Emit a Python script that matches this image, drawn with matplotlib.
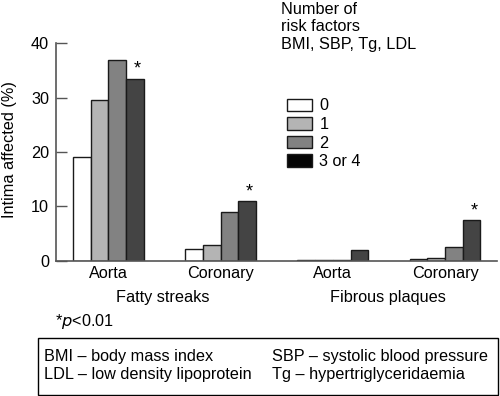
import numpy as np
import matplotlib.pyplot as plt
from matplotlib.patches import Patch, Rectangle

plt.rcParams['font.family'] = ['Liberation Sans', 'DejaVu Sans']
FS = 11.7

sites = ['Aorta', 'Coronary', 'Aorta', 'Coronary']
lesions = ['Fatty streaks', 'Fibrous plaques']
n_factors = ['0', '1', '2', '3 or 4']

# % intima affected, one list per number of risk factors
zero = [19.1, 2.1, 0.2, 0.4]
one = [29.5, 2.9, 0.2, 0.5]
two = [36.9, 9.0, 0.2, 2.6]
three_four = [33.5, 11.0, 2.0, 7.5]
signif = [True, True, False, True]

bar_colors = ['white', '#b4b4b4', '#828282', '#444444']
legend_colors = ['white', '#b4b4b4', '#828282', '#050505']

fig = plt.figure(figsize=(5.0, 3.96), dpi=100)
W, H = 500.0, 396.0
ax = fig.add_axes([56 / W, 1 - 260.7 / H, (497 - 56) / W, (260.7 - 43.3) / H])

x = np.arange(len(sites))
w = 0.1575
series = [zero, one, two, three_four]
for i, vals in enumerate(series):
    ax.bar(x + (i - 1.5) * w, vals, w, color=bar_colors[i],
           edgecolor='#1a1a1a', linewidth=1.0)

for xi, v, s in zip(x, three_four, signif):
    if s:
        ax.text(xi + 1.5 * w + 0.02, v + 1.7, '*', ha='center', va='center',
                fontsize=13)

ax.set_xlim(-0.467, 3.463)
ax.set_ylim(0, 40)
ax.set_yticks([0, 10, 20, 30, 40])
ax.set_xticks(x)
ax.set_xticklabels(sites, fontsize=FS)
ax.tick_params(axis='x', length=0, pad=3.5)
ax.tick_params(axis='y', direction='in', length=8, width=1, color='#555555',
               labelsize=FS, pad=5)
for sp in ['top', 'right']:
    ax.spines[sp].set_visible(False)
for sp in ['left', 'bottom']:
    ax.spines[sp].set_color('#555555')
    ax.spines[sp].set_linewidth(1.2)
ax.set_ylabel('Intima affected (%)', fontsize=FS)
ax.yaxis.set_label_coords((17 - 56) / 441, 0.509)

fig.text(163 / W, 1 - 297.7 / H, lesions[0], ha='center', va='center', fontsize=FS)
fig.text(388 / W, 1 - 297.7 / H, lesions[1], ha='center', va='center', fontsize=FS)

fig.text(281 / W, 1 - 2 / H, 'Number of\nrisk factors\nBMI, SBP, Tg, LDL',
         ha='left', va='top', fontsize=FS, linespacing=1.2)

handles = [Patch(facecolor=c, edgecolor='#1a1a1a', linewidth=1.0) for c in legend_colors]
fig.legend(handles, n_factors, loc='upper left',
           bbox_to_anchor=(283 / W, 1 - 94 / H), frameon=False, fontsize=FS,
           handlelength=1.54, handleheight=0.8, labelspacing=0.22,
           handletextpad=0.43, borderaxespad=0, borderpad=0.27)

fig.text(55 / W, 1 - 321.7 / H, '*$\\it{p}$<0.01', ha='left', va='center', fontsize=FS)

fig.patches.append(Rectangle((37.7 / W, 1 - 395 / H), (498 - 37.7) / W, (395 - 338) / H,
                             transform=fig.transFigure, fill=False,
                             edgecolor='black', linewidth=1.0))
fig.text(44 / W, 1 - 356.7 / H, 'BMI – body mass index', ha='left', va='center', fontsize=FS)
fig.text(44 / W, 1 - 375 / H, 'LDL – low density lipoprotein', ha='left', va='center', fontsize=FS)
fig.text(271.7 / W, 1 - 356.7 / H, 'SBP – systolic blood pressure', ha='left', va='center', fontsize=FS)
fig.text(271.7 / W, 1 - 375 / H, 'Tg – hypertriglyceridaemia', ha='left', va='center', fontsize=FS)

fig.savefig('out.png', dpi=100)
